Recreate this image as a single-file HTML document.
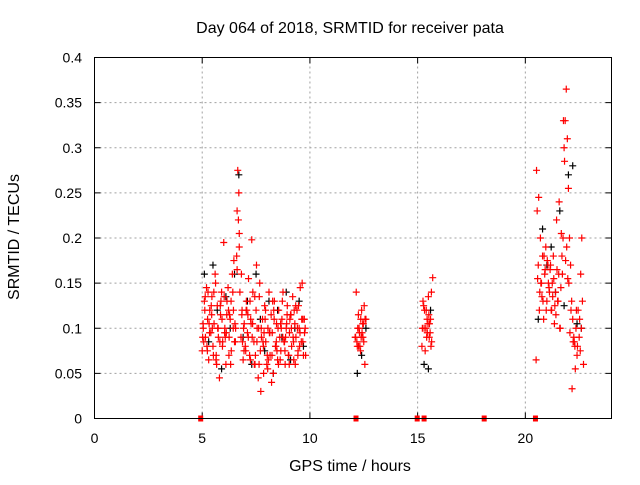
<!DOCTYPE html>
<html><head><meta charset="utf-8"><style>
body{margin:0;background:#fff;}
svg text{font-family:"Liberation Sans",sans-serif;font-size:14px;fill:#000;}
svg text.big{font-size:16px;}
</style></head><body>
<svg id="chart" width="640" height="480" xmlns="http://www.w3.org/2000/svg">
<rect width="640" height="480" fill="#fff"/>
<text class="big" x="350" y="33" text-anchor="middle">Day 064 of 2018, SRMTID for receiver pata</text>
<text class="big" x="350" y="471" text-anchor="middle">GPS time / hours</text>
<text class="big" transform="translate(19,237) rotate(-90)" text-anchor="middle">SRMTID / TECUs</text>
<g id="grid"></g>
<g id="axes"></g>
<g id="black"></g>
<g id="red"></g>
<g id="gaps"></g>
<rect x="94.5" y="57.5" width="517" height="361" fill="none" stroke="#000"/>
</svg>
<script>
const xTicks=[0,5,10,15,20];
const yTicks=[0,0.05,0.1,0.15,0.2,0.25,0.3,0.35,0.4];
const yTickLabels=["0","0.05","0.1","0.15","0.2","0.25","0.3","0.35","0.4"];
const redTimes=[5.0,5.05,5.1,5.15,5.2,5.25,5.3,5.35,5.4,5.45,5.5,5.55,5.6,5.65,5.7,5.75,5.8,5.85,5.9,5.95,6.0,6.05,6.1,6.15,6.2,6.25,6.3,6.35,6.4,6.45,6.5,6.55,6.6,6.62,6.65,6.68,6.7,6.72,6.75,6.8,6.85,6.9,6.95,7.0,7.05,7.1,7.15,7.2,7.25,7.3,7.35,7.4,7.45,7.5,7.55,7.6,7.65,7.7,7.75,7.8,7.85,7.9,7.95,8.0,8.05,8.1,8.15,8.2,8.25,8.3,8.35,8.4,8.45,8.5,8.55,8.6,8.65,8.7,8.75,8.8,8.85,8.9,8.95,9.0,9.05,9.1,9.15,9.2,9.25,9.3,9.35,9.4,9.45,9.5,9.55,9.6,9.65,9.7,9.75,5.02,5.12,5.22,5.32,5.42,5.52,5.62,5.72,5.82,5.92,6.02,6.12,6.22,6.32,6.42,6.52,6.62,6.72,6.82,6.92,7.02,7.12,7.22,7.32,7.42,7.52,7.62,7.72,7.82,7.92,8.02,8.12,8.22,8.32,8.42,8.52,8.62,8.72,8.82,8.92,9.02,9.12,9.22,9.32,9.42,9.52,9.62,9.72,5.07,5.27,5.47,5.67,5.87,6.07,6.27,6.47,6.87,7.07,7.27,7.47,7.67,7.87,8.07,8.27,8.47,8.67,8.87,9.07,9.27,9.47,9.67,
5.04,5.14,5.24,5.34,5.44,5.54,5.64,5.74,5.84,5.94,6.04,6.14,6.24,6.34,6.44,6.54,6.84,6.94,7.04,7.14,7.24,7.34,7.44,7.54,7.64,7.74,7.84,7.94,8.04,8.14,8.24,8.34,8.44,8.54,8.64,8.74,8.84,8.94,9.04,9.14,9.24,9.34,9.44,9.54,9.64,9.74,9.8,9.78,
12.1,12.15,12.2,12.25,12.3,12.35,12.4,12.45,12.5,12.55,12.6,12.12,12.22,12.32,12.42,12.52,12.18,12.28,12.38,12.48,12.26,12.36,12.46,12.56,
15.2,15.25,15.3,15.35,15.4,15.45,15.5,15.55,15.6,15.65,15.7,15.22,15.32,15.42,15.52,15.62,15.28,15.38,15.48,15.58,15.44,15.54,15.64,
20.5,20.55,20.6,20.65,20.7,20.75,20.8,20.85,20.9,20.95,21.0,21.05,21.1,21.15,21.2,21.25,21.3,21.35,21.4,21.45,21.5,21.55,21.6,21.65,21.7,21.75,21.8,21.85,21.9,21.95,22.0,22.05,22.1,22.15,22.2,22.25,22.3,22.35,22.4,22.45,22.5,22.55,22.6,22.65,22.7,20.52,20.62,20.72,20.82,20.92,21.02,21.12,21.22,21.32,21.42,21.52,21.62,21.72,21.82,21.92,22.02,22.12,22.22,22.32,22.42,22.52,22.62,20.57,20.77,20.97,21.17,21.37,21.57,21.77,21.97,22.17,22.37,22.57,
20.67,20.87,21.07,21.27,21.47,21.67,21.87,22.07,22.27,22.47,22.67];
const redValues=[0.075,0.1,0.13,0.09,0.145,0.11,0.065,0.12,0.095,0.135,0.08,0.105,0.16,0.07,0.125,0.09,0.045,0.115,0.14,0.085,0.195,0.1,0.06,0.13,0.145,0.09,0.11,0.075,0.16,0.12,0.085,0.1,0.18,0.23,0.275,0.22,0.25,0.19,0.14,0.09,0.12,0.065,0.105,0.08,0.13,0.095,0.155,0.07,0.11,0.198,0.14,0.085,0.06,0.12,0.1,0.045,0.135,0.075,0.09,0.11,0.05,0.125,0.085,0.06,0.1,0.14,0.07,0.115,0.095,0.05,0.13,0.08,0.105,0.065,0.12,0.09,0.075,0.11,0.14,0.085,0.06,0.1,0.125,0.07,0.095,0.115,0.08,0.135,0.065,0.105,0.09,0.12,0.075,0.1,0.145,0.085,0.11,0.07,0.095,
0.09,0.12,0.08,0.105,0.125,0.07,0.15,0.1,0.085,0.11,0.135,0.095,0.12,0.06,0.14,0.105,0.165,0.205,0.16,0.1,0.075,0.115,0.13,0.09,0.06,0.17,0.1,0.03,0.085,0.11,0.07,0.095,0.04,0.12,0.08,0.1,0.065,0.13,0.085,0.105,0.07,0.115,0.09,0.06,0.1,0.08,0.11,
0.11,0.085,0.14,0.1,0.06,0.13,0.09,0.115,0.175,0.085,0.12,0.105,0.07,0.15,0.095,0.065,0.13,0.075,0.1,0.09,0.11,0.12,
0.125,0.085,0.105,0.135,0.075,0.095,0.115,0.14,0.065,0.1,0.125,0.08,0.095,0.115,0.07,0.13,0.1,0.085,0.115,0.075,0.12,0.09,0.065,0.105,0.135,0.085,0.06,0.1,0.08,0.12,0.055,0.095,0.07,0.11,0.085,0.06,0.105,0.09,0.075,0.115,0.06,0.1,0.085,0.125,0.07,0.095,0.15,0.11,
0.07,0.1,0.09,0.14,0.08,0.115,0.095,0.075,0.12,0.105,0.085,0.06,0.11,0.09,0.1,0.08,0.095,0.125,0.085,0.1,0.09,0.105,0.08,0.11,
0.09,0.11,0.08,0.13,0.1,0.075,0.12,0.095,0.135,0.105,0.11,0.085,0.156,0.1,0.12,0.09,0.115,0.08,0.125,0.1,0.105,0.095,0.11,
0.09,0.14,0.065,0.23,0.17,0.12,0.2,0.15,0.18,0.11,0.16,0.19,0.13,0.17,0.145,0.165,0.12,0.15,0.18,0.105,0.14,0.22,0.13,0.16,0.1,0.145,0.18,0.2,0.3,0.33,0.365,0.31,0.255,0.2,0.17,0.13,0.11,0.09,0.08,0.1,0.07,0.12,0.09,0.075,0.1,
0.13,0.06,0.275,0.245,0.15,0.13,0.165,0.175,0.14,0.12,0.155,0.115,0.13,0.1,0.16,0.285,0.19,0.15,0.12,0.085,0.055,0.08,
0.11,0.2,0.155,0.135,0.12,0.17,0.125,0.24,0.33,0.155,0.033,
0.12,0.16,0.14,0.18,0.15,0.135,0.165,0.205,0.175,0.095,0.085];
const blackTimes=[5.1,5.3,5.5,5.7,5.9,6.1,6.3,6.5,6.7,6.9,7.1,7.3,7.5,7.7,7.9,8.1,8.3,8.5,8.7,8.9,9.1,9.3,9.5,9.7,12.2,12.4,12.6,15.3,15.5,15.6,20.6,20.8,21.0,21.2,21.4,21.6,21.8,22.0,22.2,22.4,22.6];
const blackValues=[0.16,0.085,0.17,0.12,0.055,0.135,0.1,0.16,0.27,0.09,0.13,0.06,0.16,0.11,0.075,0.13,0.05,0.12,0.09,0.14,0.065,0.1,0.13,0.08,0.05,0.07,0.1,0.06,0.055,0.12,0.11,0.21,0.17,0.19,0.14,0.23,0.125,0.27,0.28,0.105,0.1];
const gapTimes=[4.93,12.14,14.98,15.3,18.09,20.47];

const NS='http://www.w3.org/2000/svg';
const X0=94.5,X1=611.5,Y0=418.5,Y1=57.5;
const sx=t=>X0+t/24*(X1-X0);
const sy=v=>Y0-v/0.4*(Y0-Y1);
function mk(tag,attrs,parent){const e=document.createElementNS(NS,tag);for(const k in attrs)e.setAttribute(k,attrs[k]);parent.appendChild(e);return e;}
const grid=document.getElementById('grid'),axes=document.getElementById('axes');
xTicks.forEach(t=>{
  const x=sx(t);
  if(t>0){const g=mk('line',{x1:x,x2:x,y1:Y0,y2:Y1,stroke:'#a0a0a0','stroke-dasharray':'2,3'},grid);
  
  }
  mk('line',{x1:x,x2:x,y1:Y0,y2:Y0-6,stroke:'#000'},axes);
  mk('line',{x1:x,x2:x,y1:Y1,y2:Y1+6,stroke:'#000'},axes);
  const l=mk('text',{x:x,y:443,'text-anchor':'middle'},axes);l.textContent=String(t);
  
  
});
yTicks.forEach((v,i)=>{
  const y=sy(v);
  if(i>0&&i<yTicks.length-1){const g=mk('line',{x1:X0,x2:X1,y1:y,y2:y,stroke:'#a0a0a0','stroke-dasharray':'2,3'},grid);
  
  }
  mk('line',{x1:X0,x2:X0+6,y1:y,y2:y,stroke:'#000'},axes);
  mk('line',{x1:X1,x2:X1-6,y1:y,y2:y,stroke:'#000'},axes);
  const l=mk('text',{x:82,y:y+5,'text-anchor':'end'},axes);l.textContent=yTickLabels[i];
  
  
});
function plus(g,t,v,col,name){
  const x=sx(t),y=sy(v);
  const p=mk('path',{d:`M${x-3.5},${y}h7M${x},${y-3.5}v7`,stroke:col,'stroke-width':1.2,fill:'none'},g);
  
  
}
const bg=document.getElementById('black'),rg=document.getElementById('red'),gg=document.getElementById('gaps');
blackTimes.forEach((t,i)=>plus(bg,t,blackValues[i],'#000','black-point'));
redTimes.forEach((t,i)=>plus(rg,t,redValues[i],'#f00','red-point'));
gapTimes.forEach(t=>{
  const r=mk('rect',{x:sx(t)-2.5,y:Y0-3,width:5,height:6,fill:'#f00'},gg);
  
  
});
</script>
</body></html>
